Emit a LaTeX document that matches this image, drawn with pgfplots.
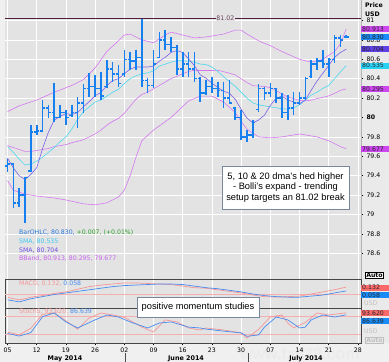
\documentclass[border=0pt]{standalone}
\usepackage{pgfplots}
\pgfplotsset{compat=1.18}
\usepackage{pgfplotstable}
\usepackage{fontspec}
\setmainfont{Liberation Sans}
\newfontfamily\dvs{DejaVu Sans}
\usetikzlibrary{shadows}

\definecolor{plotbg}{RGB}{227,227,227}
\definecolor{outerbg}{RGB}{240,240,240}
\definecolor{rightbg}{RGB}{234,234,234}
\definecolor{barblue}{RGB}{22,128,240}
\definecolor{smaf}{RGB}{125,95,232}
\definecolor{smas}{RGB}{75,215,240}
\definecolor{bbc}{RGB}{212,120,242}
\definecolor{mpink}{RGB}{245,150,150}
\definecolor{mblue}{RGB}{70,140,240}
\definecolor{refpink}{RGB}{245,175,175}
\definecolor{lineeo}{RGB}{80,30,60}
\definecolor{greenc}{RGB}{40,160,40}
\definecolor{boxb}{RGB}{120,135,160}
\definecolor{framegray}{RGB}{70,70,70}
\definecolor{bbbox}{RGB}{205,70,240}
\definecolor{bluebox}{RGB}{25,140,250}
\definecolor{purbox}{RGB}{95,65,230}
\definecolor{cyanbox}{RGB}{40,210,245}
\definecolor{redbox}{RGB}{250,105,105}
\definecolor{legblue}{RGB}{40,120,220}
\definecolor{legcyan}{RGB}{60,200,240}
\definecolor{legpur}{RGB}{110,80,230}
\definecolor{legmag}{RGB}{200,100,240}

\newcommand{\sm}{\dvs\fontsize{6.2}{7}\selectfont}

\pgfplotstableread{
i hi lo op cl
0 79.57 79.44 79.50 79.52
1 79.53 79.07 79.52 79.12
2 79.27 79.08 79.12 79.20
3 79.39 78.91 79.20 79.38
4 79.92 79.44 79.45 79.85
5 79.92 79.82 79.85 79.86
6 80.18 79.87 79.86 80.10
7 80.13 79.99 80.10 80.05
8 80.36 79.95 80.05 80.00
9 80.13 79.99 80.00 80.05
10 80.08 79.92 80.05 80.00
11 80.13 80.00 80.02 80.05
12 80.21 79.89 80.05 80.15
13 80.34 80.05 80.15 80.30
14 80.46 80.21 80.30 80.32
15 80.44 80.21 80.32 80.30
16 80.47 80.18 80.30 80.22
17 80.59 80.30 80.32 80.50
18 80.57 80.37 80.50 80.45
19 80.54 80.31 80.45 80.35
20 80.70 80.42 80.45 80.60
21 80.68 80.49 80.60 80.58
22 80.70 80.49 80.58 80.62
23 81.02 80.31 80.62 80.38
24 80.41 80.25 80.38 80.33
25 80.70 80.30 80.33 80.55
26 80.88 80.61 80.62 80.80
27 80.90 80.70 80.80 80.75
28 80.83 80.67 80.75 80.72
29 80.75 80.44 80.72 80.50
30 80.68 80.42 80.50 80.55
31 80.68 80.42 80.55 80.50
32 80.68 80.37 80.50 80.40
33 80.42 80.16 80.40 80.25
34 80.39 80.23 80.25 80.32
35 80.42 80.25 80.32 80.30
36 80.37 80.21 80.30 80.28
37 80.37 80.10 80.28 80.20
38 80.39 80.15 80.20 80.15
39 80.11 79.97 80.10 80.00
40 80.08 79.77 80.00 79.80
41 79.87 79.75 79.80 79.82
42 79.97 79.79 79.82 79.95
43 80.34 80.06 80.08 80.30
44 80.31 80.18 80.30 80.25
45 80.36 80.21 80.25 80.30
46 80.30 80.15 80.30 80.20
47 80.25 79.99 80.20 80.05
48 80.23 79.97 80.05 80.10
49 80.26 80.03 80.10 80.15
50 80.26 80.13 80.15 80.20
51 80.42 80.18 80.20 80.40
52 80.59 80.41 80.42 80.55
53 80.61 80.49 80.55 80.58
54 80.70 80.51 80.58 80.55
55 80.61 80.42 80.55 80.60
56 80.85 80.56 80.60 80.82
57 80.85 80.73 80.82 80.80
58 80.85 80.82 80.83 80.83
}\bars

\pgfplotstableread{
i v
0 79.58
1 79.48
2 79.40
3 79.36
4 79.414
5 79.482
6 79.678
7 79.848
8 79.972
9 80.012
10 80.040
11 80.030
12 80.050
13 80.110
14 80.164
15 80.224
16 80.258
17 80.328
18 80.38
19 80.40
20 80.45
21 80.50
22 80.52
23 80.52
24 80.52
25 80.53
26 80.58
27 80.62
28 80.67
29 80.69
30 80.67
31 80.604
32 80.534
33 80.440
34 80.404
35 80.354
36 80.310
37 80.270
38 80.250
39 80.186
40 80.086
41 79.994
42 79.944
43 79.974
44 80.024
45 80.124
46 80.200
47 80.220
48 80.180
49 80.160
50 80.140
51 80.180
52 80.280
53 80.376
54 80.456
55 80.536
56 80.620
57 80.670
58 80.704
}\smafive

\pgfplotstableread{
i v
0 79.70
1 79.64
2 79.57
3 79.51
4 79.52
5 79.55
6 79.59
7 79.64
8 79.69
9 79.75
10 79.80
11 79.88
12 79.98
13 80.06
14 80.11
15 80.16
16 80.18
17 80.22
18 80.26
19 80.29
20 80.35
21 80.40
22 80.43
23 80.45
24 80.46
25 80.48
26 80.53
27 80.55
28 80.57
29 80.585
30 80.585
31 80.58
32 80.57
33 80.55
34 80.545
35 80.52
36 80.475
37 80.42
38 80.37
39 80.32
40 80.26
41 80.20
42 80.15
43 80.13
44 80.12
45 80.11
46 80.10
47 80.09
48 80.085
49 80.10
50 80.13
51 80.18
52 80.23
53 80.26
54 80.30
55 80.33
56 80.40
57 80.47
58 80.535
}\smaten

\pgfplotstableread{
i v
0 79.71
1 79.69
2 79.67
3 79.65
4 79.65
5 79.66
6 79.67
7 79.68
8 79.70
9 79.71
10 79.72
11 79.74
12 79.755
13 79.77
14 79.80
15 79.83
16 79.87
17 79.92
18 79.96
19 79.99
20 80.043
21 80.116
22 80.187
23 80.237
24 80.261
25 80.295
26 80.330
27 80.365
28 80.401
29 80.424
30 80.451
31 80.474
32 80.486
33 80.484
34 80.484
35 80.484
36 80.487
37 80.472
38 80.457
39 80.439
40 80.399
41 80.361
42 80.328
43 80.324
44 80.320
45 80.307
46 80.277
47 80.242
48 80.211
49 80.194
50 80.176
51 80.171
52 80.179
53 80.195
54 80.207
55 80.222
56 80.249
57 80.279
58 80.295
}\bbmid

\pgfplotstableread{
i v
0 80.06
2 80.12
5 80.18
8 80.26
11 80.33
13 80.39
15 80.51
17 80.68
19 80.79
20 80.85
21 80.86
22 80.83
23 80.80
25 80.77
27 80.85
28 80.88
30 80.85
32 80.82
34 80.83
36 80.85
37 80.86
39 80.90
40 80.90
41 80.86
43 80.79
45 80.74
47 80.68
50 80.60
52 80.57
54 80.60
56 80.68
57 80.76
58 80.913
}\bbup

\pgfplotstableread{
i v
0 79.35
1 79.25
3 79.21
5 79.19
8 79.17
10 79.15
13 79.11
15 79.10
17 79.12
19 79.18
20 79.25
21 79.40
22 79.59
23 79.76
25 79.87
28 80.00
31 80.17
33 80.22
35 80.22
37 80.16
39 80.05
40 79.96
41 79.88
42 79.84
43 79.80
45 79.79
47 79.80
50 79.83
53 79.80
55 79.76
57 79.70
58 79.677
}\bblow

\pgfplotstableread{
i v
0 -0.06
1 -0.09
2 -0.11
3 -0.09
4 -0.06
6 -0.03
8 0.01
10 0.04
12 0.09
14 0.14
16 0.17
18 0.19
20 0.21
22 0.21
24 0.20
26 0.19
28 0.18
30 0.15
32 0.12
34 0.11
36 0.08
38 0.05
40 0.02
42 -0.02
44 -0.05
46 -0.06
48 -0.05
50 -0.04
52 0.00
54 0.04
56 0.08
58 0.132
}\macd

\pgfplotstableread{
i v
0 -0.11
2 -0.15
4 -0.09
6 -0.05
8 -0.01
10 0.02
12 0.05
14 0.08
16 0.11
18 0.14
20 0.16
22 0.17
24 0.18
26 0.19
28 0.19
30 0.18
32 0.15
34 0.12
36 0.10
38 0.07
40 0.04
42 0.00
44 -0.03
46 -0.05
48 -0.06
50 -0.06
52 -0.04
54 -0.02
56 0.02
58 0.058
}\signal

\pgfplotstableread{
i v
0 27
2 17
4 40
6 88
8 93
10 66
12 37
14 76
16 93
18 86
20 78
23 44
25 27
27 69
29 62
31 41
33 34
34 41
37 34
40 24
41 6
43 36
45 79
47 86
48 58
49 41
51 60
53 93
55 86
58 93.62
}\stk

\pgfplotstableread{
i v
0 22
2 13
4 25
6 80
8 93
10 62
12 41
15 69
17 86
19 79
21 62
24 41
26 58
28 62
31 44
33 41
34 37
37 30
40 24
41 12
43 17
44 44
46 79
48 69
50 41
51 44
52 69
54 86
56 79
58 86.64
}\std

\begin{document}
\begin{tikzpicture}
\path[use as bounding box, fill=outerbg] (0pt,0pt) rectangle (389pt,362pt);
\fill[rightbg] (361pt,19pt) rectangle (389pt,362pt);
% faint watermark behind the bottom strip
\node[text=black!8, font=\bfseries\fontsize{16}{16}\selectfont, inner sep=0] at (300pt,8pt) {www.fx678.com};

% ---------------- main price panel
\begin{axis}[
  at={(5pt,83pt)}, anchor=south west, scale only axis,
  width=356pt, height=279pt,
  xmin=-0.43, xmax=60.53, ymin=78.335, ymax=81.211,
  axis background/.style={fill=plotbg},
  axis line style={draw=none},
  xtick={0,5,...,60}, xticklabels={}, xtick style={draw=none},
  ytick={78.6,78.8,79,79.2,79.4,79.6,79.8,80,80.2,80.4,80.6,80.8,81},
  yticklabels={78.6,78.8,79,79.2,79.4,79.6,79.8,\textbf{80},80.2,80.4,80.6,80.8,81},
  ytick pos=right, yticklabel pos=right,
  tick align=outside, major tick length=2.5pt,
  ytick style={black, line width=0.5pt},
  yticklabel style={font=\sm, xshift=-0.5pt},
  grid=major, grid style={draw=white, line width=0.7pt},
]
\addplot[lineeo, line width=1.3pt, forget plot] coordinates {(-0.43,81.02) (60.53,81.02)};
\addplot[bbc, line width=0.6pt, forget plot] table[x=i,y=v] {\bbup};
\addplot[bbc, line width=0.6pt, forget plot] table[x=i,y=v] {\bbmid};
\addplot[bbc, line width=0.6pt, forget plot] table[x=i,y=v] {\bblow};
\addplot[smas, line width=0.6pt, forget plot] table[x=i,y=v] {\smaten};
\addplot[smaf, line width=0.6pt, forget plot] table[x=i,y=v] {\smafive};
% OHLC bars: high-low, open tick, close tick
\addplot[draw=none, mark=none, forget plot,
  error bars/.cd, y dir=minus, y explicit, error mark=none,
  error bar style={draw=barblue, line width=1.6pt}]
  table[x=i, y=hi, y error minus expr=\thisrow{hi}-\thisrow{lo}] {\bars};
\addplot[draw=none, mark=none, forget plot,
  error bars/.cd, x dir=minus, x fixed=0.45, error mark=none,
  error bar style={draw=barblue, line width=1.5pt}]
  table[x=i, y=op] {\bars};
\addplot[draw=none, mark=none, forget plot,
  error bars/.cd, x dir=plus, x fixed=0.45, error mark=none,
  error bar style={draw=barblue, line width=1.5pt}]
  table[x=i, y=cl] {\bars};
\node[fill=plotbg, text=lineeo!85, font=\sm, inner sep=0.8pt] at (axis cs:37.3,81.02) {81.02};
\end{axis}

% ---------------- MACD panel
\begin{axis}[
  at={(5pt,54pt)}, anchor=south west, scale only axis,
  width=356pt, height=29pt,
  xmin=-0.43, xmax=60.53, ymin=-0.266, ymax=0.285,
  axis background/.style={fill=plotbg},
  axis line style={draw=framegray, line width=0.7pt},
  xtick={0,5,...,60}, xticklabels={}, xtick style={draw=none},
  ytick=\empty,
  grid=major, grid style={draw=white, line width=0.7pt},
]
\addplot[refpink, line width=0.8pt, forget plot] coordinates {(-0.43,0) (60.53,0)};
\addplot[mpink, line width=0.7pt, forget plot] table[x=i,y=v] {\macd};
\addplot[mblue, line width=0.7pt, forget plot] table[x=i,y=v] {\signal};
\end{axis}

% ---------------- Stochastic panel
\begin{axis}[
  at={(5pt,19pt)}, anchor=south west, scale only axis,
  width=356pt, height=35pt,
  xmin=-0.43, xmax=60.53, ymin=-11.1, ymax=110.2,
  axis background/.style={fill=plotbg},
  axis line style={draw=framegray, line width=0.7pt},
  xtick={0,5,...,60},
  xticklabels={05,12,19,26,02,09,16,23,30,07,14,21,28},
  xtick pos=left, tick align=outside, major tick length=2.5pt,
  xtick style={black, line width=0.5pt},
  xticklabel style={font=\sm, yshift=1pt},
  ytick=\empty,
  grid=major, grid style={draw=white, line width=0.7pt},
]
\addplot[refpink, line width=0.8pt, forget plot] coordinates {(-0.43,80) (60.53,80)};
\addplot[refpink, line width=0.8pt, forget plot] coordinates {(-0.43,20) (60.53,20)};
\addplot[mpink, line width=0.7pt, forget plot] table[x=i,y=v] {\stk};
\addplot[mblue, line width=0.7pt, forget plot] table[x=i,y=v] {\std};
\end{axis}

\begin{scope}[x=1pt,y=1pt]
% right separator
\draw[black!30, line width=0.5pt] (361,83) -- (361,362);
% Price / USD
\node[font=\sm\bfseries, anchor=west, inner sep=0] at (365,356.5) {Price};
\node[font=\sm\bfseries, anchor=west, inner sep=0] at (365,347.3) {USD};
% value boxes
\node[fill=bbbox, text=black!85, font=\sm, anchor=west, text width=26pt, inner xsep=1pt, inner ysep=0.6pt, align=left] at (361,333.1) {80.913};
\node[fill=bluebox, text=black!85, font=\sm, anchor=west, text width=26pt, inner xsep=1pt, inner ysep=0.6pt, align=left] at (361,325.0) {80.830};
\node[fill=purbox, text=black!85, font=\sm, anchor=west, text width=26pt, inner xsep=1pt, inner ysep=0.6pt, align=left] at (361,312.8) {80.704};
\node[fill=cyanbox, text=black!85, font=\sm, anchor=west, text width=26pt, inner xsep=1pt, inner ysep=0.6pt, align=left] at (361,296.4) {80.535};
\node[fill=bbbox, text=black!85, font=\sm, anchor=west, text width=26pt, inner xsep=1pt, inner ysep=0.6pt, align=left] at (361,273.1) {80.295};
\node[fill=bbbox, text=black!85, font=\sm, anchor=west, text width=26pt, inner xsep=1pt, inner ysep=0.6pt, align=left] at (361,213.2) {79.677};
\node[draw=black, fill=white, font=\sm\bfseries, inner sep=0.7pt] at (374.5,87) {Auto};
\node[fill=redbox, text=black!85, font=\sm, anchor=west, text width=26pt, inner xsep=1pt, inner ysep=0.6pt, align=left] at (361,74.3) {0.132};
\node[fill=bluebox, text=black!85, font=\sm, anchor=west, text width=26pt, inner xsep=1pt, inner ysep=0.6pt, align=left] at (361,66.7) {0.058};
\node[text=black!25, font=\sm, anchor=west, inner sep=0] at (364,59) {USD};
\node[fill=redbox, text=black!85, font=\sm, anchor=west, text width=26pt, inner xsep=1pt, inner ysep=0.6pt, align=left] at (361,49) {93.620};
\node[fill=bluebox, text=black!85, font=\sm, anchor=west, text width=26pt, inner xsep=1pt, inner ysep=0.6pt, align=left] at (361,41) {86.639};
\node[text=black!25, font=\sm, anchor=west, inner sep=0] at (364,31) {USD};
\node[draw=black!25, text=black!25, font=\sm\bfseries, inner sep=0.7pt] at (374.5,22) {Auto};
% legends
\node[anchor=west, font=\sm, inner sep=0] at (19,129) {\textcolor{legblue}{BarOHLC, 80.830,} \textcolor{greenc}{+0.007, (+0.01\%)}};
\node[anchor=west, font=\sm, inner sep=0, text=legcyan] at (19,120) {SMA, 80.535};
\node[anchor=west, font=\sm, inner sep=0, text=legpur] at (19,111.3) {SMA, 80.704};
\node[anchor=west, font=\sm, inner sep=0, text=legmag] at (19,103) {BBand, 80.913, 80.295, 79.677};
\node[anchor=west, font=\sm, inner sep=0] at (19,78) {\textcolor{mpink}{MACD, 0.132,} \textcolor{mblue}{0.058}};
\node[anchor=west, font=\sm, inner sep=0] at (19,50.3) {\textcolor{mpink}{StochS, 93.620,} \textcolor{mblue}{86.639}};
% annotation boxes
\node[draw=boxb, fill=white, line width=0.6pt,
  drop shadow={shadow xshift=1.3pt, shadow yshift=-1.3pt, opacity=0.35},
  minimum width=127pt, minimum height=43pt, inner sep=0, align=center,
  font=\fontsize{9.3}{10.5}\selectfont] at (285.5,174.5)
  {5, 10 \& 20 dma's hed higher\\- Bolli's expand - trending\\setup targets an 81.02 break};
\node[draw=boxb, fill=white, line width=0.6pt,
  drop shadow={shadow xshift=1.3pt, shadow yshift=-1.3pt, opacity=0.35},
  minimum width=122pt, minimum height=20pt, inner sep=0,
  font=\fontsize{9.3}{10.5}\selectfont] at (198,55) {positive momentum studies};
% month labels
\draw[black!70, line width=0.5pt] (125,0) -- (125,9);
\draw[black!70, line width=0.5pt] (248,0) -- (248,9);
\node[font=\dvs\bfseries\fontsize{6.4}{7}\selectfont, inner sep=0] at (65,3.2) {May 2014};
\node[font=\dvs\bfseries\fontsize{6.4}{7}\selectfont, inner sep=0] at (186,3.2) {June 2014};
\node[font=\dvs\bfseries\fontsize{6.4}{7}\selectfont, inner sep=0] at (306,3.2) {July 2014};
\end{scope}
\end{tikzpicture}
\end{document}
